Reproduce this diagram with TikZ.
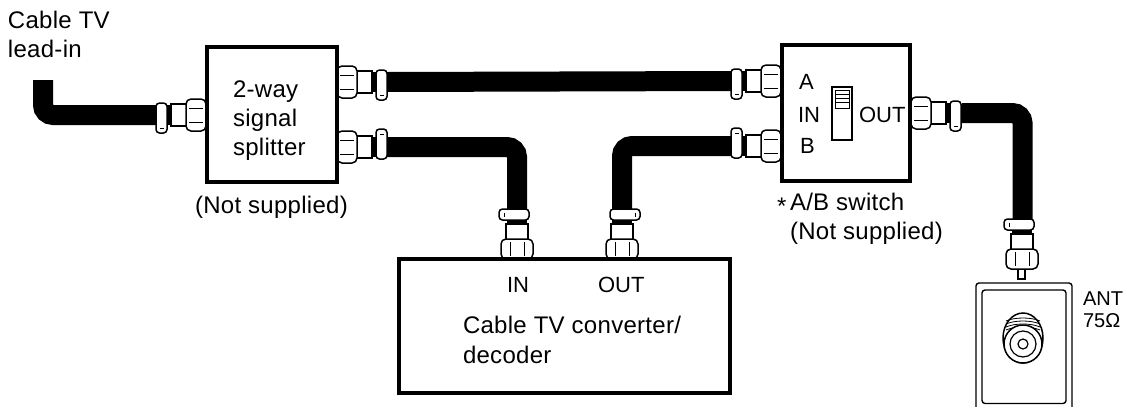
\documentclass[tikz,border=0pt]{standalone}
\usepackage{fontspec}
\setmainfont{Liberation Sans}[LetterSpace=1.2]
\newfontfamily\lbl{Liberation Sans}
\tikzset{
  x=1pt,y=-1pt,
  box/.style={draw=black,line width=3.6pt,fill=white,inner sep=0pt,outer sep=0pt},
  cable/.style={draw=black,line width=20pt,rounded corners=10pt,line cap=butt},
  txt/.style={font=\fontsize{24}{29}\selectfont,inner sep=0pt,outer sep=0pt,anchor=base west,align=left,text=black},
  tag/.style={font=\lbl\fontsize{22}{26}\selectfont,inner sep=0pt,outer sep=0pt,anchor=base west,align=left,text=black},
  small/.style={font=\lbl\fontsize{20}{22}\selectfont,inner sep=0pt,outer sep=0pt,anchor=base west,align=left,text=black},
  thin line/.style={draw=black,line width=1.5pt,fill=white},
  conn/.pic={
    \fill[black] (-38,-10) rectangle (-33,10);
    \draw[thin line] (-34,-11) rectangle (-18,11);
    \draw[thin line,rounded corners=5pt] (-19,-16) rectangle (1,16);
    \draw[black,line width=1pt] (-16,-7) -- (-2,-7) (-16,7) -- (-2,7);
    \draw[thin line,rounded corners=3.5pt] (-49,-12) rectangle (-38,18);
    \draw[black,line width=1pt] (-45.5,13) -- (-41.5,13);
  }
}
\begin{document}
\begin{tikzpicture}
\useasboundingbox[fill=white] (0,0) rectangle (1128,407);

% cable ends
\coordinate (leadA) at (43,80);
\coordinate (leadB) at (43,115);
\coordinate (leadC) at (157,115);
\coordinate (sATop) at (387,82);
\coordinate (swATop) at (731,81);
\coordinate (sBLow) at (387,147);
\coordinate (sBC) at (517,147);
\coordinate (cIn) at (517,209);
\coordinate (cOut) at (622,209);
\coordinate (cOC) at (622,146);
\coordinate (swBLow) at (731,146);
\coordinate (swOut) at (962,113);
\coordinate (oC) at (1022.5,113);
\coordinate (oEnd) at (1022.5,220);

\draw[cable] (leadA) -- (leadB) -- (leadC);
\draw[cable] (sATop) -- (swATop);
\draw[cable] (sBLow) -- (sBC) -- (cIn);
\draw[cable] (cOut) -- (cOC) -- (swBLow);
\draw[cable] (swOut) -- (oC) -- (oEnd);

% connectors
\pic at (205,115) {conn};
\pic[xscale=-1] at (338,82) {conn};
\pic[xscale=-1,yscale=-1] at (338,147) {conn};
\pic at (780,81) {conn};
\pic[yscale=-1] at (780,146) {conn};
\pic[xscale=-1] at (912,113) {conn};
\pic[rotate=-90] at (517,258) {conn};
\pic[rotate=-90,yscale=-1] at (622,258) {conn};
\draw[thin line] (1018,266) rectangle (1025,279);
\pic[rotate=-90] at (1022,268) {conn};

% boxes
\node[box,minimum width=130pt,minimum height=135pt] (splitter) at (272,114.5) {};
\node[box,minimum width=128pt,minimum height=136pt] (switch) at (846,113) {};
\node[box,minimum width=331pt,minimum height=134pt] (decoder) at (564.5,326) {};

% switch
\draw[black,line width=1.5pt] (832,87) rectangle (852,140);
\draw[black,line width=1pt] (835,90) rectangle (849,108);
\foreach \yy in {94,98,102}{\draw[black,line width=1pt] (835,\yy) -- (849,\yy);}

% wall outlet
\draw[black,line width=1.4pt,rounded corners=3pt] (976,407) -- (976,283) -- (1072,283) -- (1072,407);
\draw[black,line width=1.4pt,rounded corners=3pt] (982,403.5) -- (982,290) -- (1066,290) -- (1066,403.5) -- cycle;
\draw[black,line width=1.5pt,fill=white] (1023,338) ellipse [x radius=20,y radius=25];
\foreach \yy in {317,320,323,326}{\draw[black,line width=0.8pt] (1006,\yy+4) .. controls (1015,\yy) and (1031,\yy) .. (1040,\yy+4);}
\draw[black,line width=1.5pt,fill=white] (1023,344) circle [radius=19];
\draw[black,line width=1.2pt] (1023,344) circle [radius=13];
\draw[black,line width=1.2pt] (1023,344) circle [radius=5];

% labels
\node[txt] (t1) at (8,28) {Cable TV};
\node[txt] (t2) at (8,57) {lead-in};
\node[txt] (t3) at (233,97) {2-way};
\node[txt] (t4) at (233,126) {signal};
\node[txt] (t5) at (233,155) {splitter};
\node[txt] (t6) at (195,213) {(Not supplied)};
\node[tag] (t7) at (799,89) {A};
\node[tag] (t8) at (798,122) {IN};
\node[tag] (t9) at (800,153) {B};
\node[tag] (t10) at (859,122) {OUT};
\node[txt] (t11) at (777,214) {*};
\node[txt] (t12) at (790,210) {A/B switch};
\node[txt] (t13) at (790,239) {(Not supplied)};
\node[tag] (t14) at (507,292) {IN};
\node[tag] (t15) at (598,292) {OUT};
\node[txt] (t16) at (463,333) {Cable TV converter/};
\node[txt] (t17) at (463,363) {decoder};
\node[small] (t18) at (1083,305) {ANT};
\node[small] (t19) at (1083,327) {75Ω};
\end{tikzpicture}
\end{document}
